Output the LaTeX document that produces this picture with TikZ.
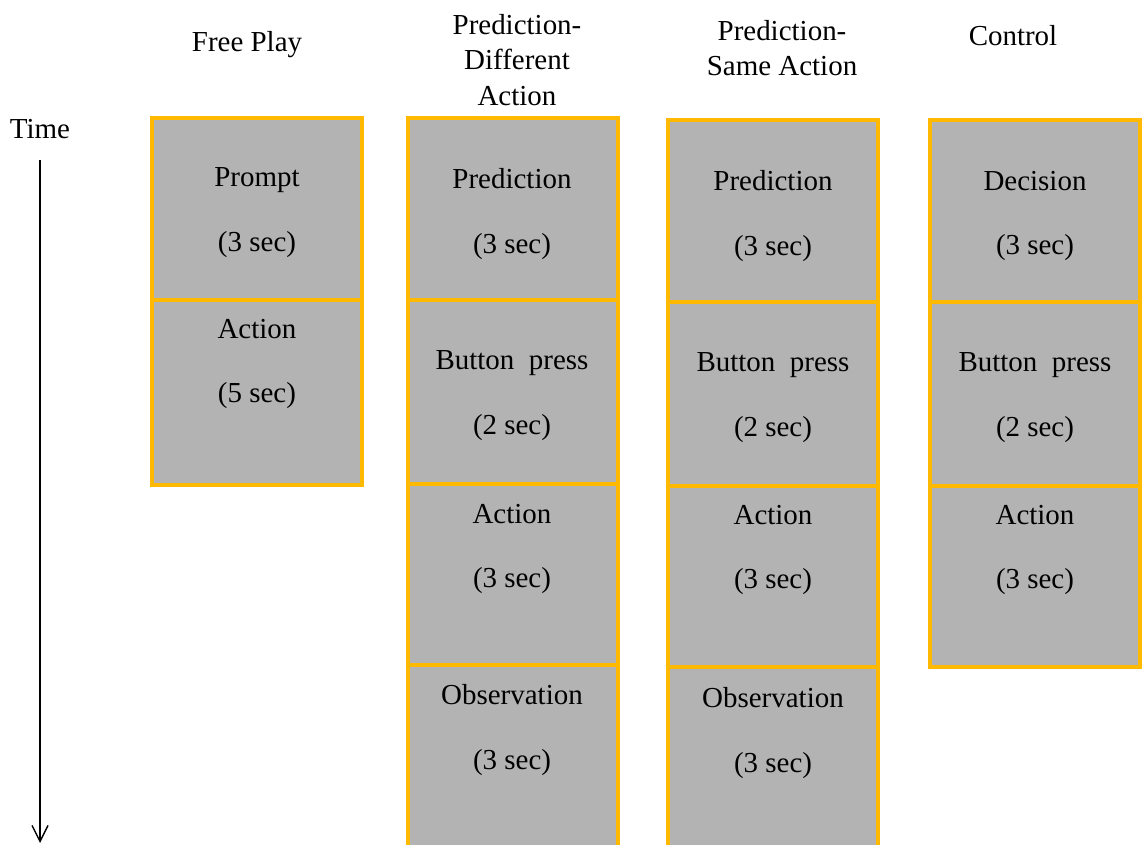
\documentclass[tikz,border=0pt]{standalone}
\usepackage{fontspec}
\setmainfont{Liberation Serif}
\usetikzlibrary{arrows.meta}
\definecolor{boxorange}{HTML}{FFB900}
\definecolor{boxgray}{HTML}{B3B3B3}

\begin{document}
\begin{tikzpicture}[x=0.025cm,y=-0.025cm,
   box/.style={rectangle,draw=boxorange,fill=boxgray,line width=3.5pt,
    minimum width=5.25cm,inner sep=0pt},
   txt/.style={align=center,font=\fontsize{20.6}{46.2}\selectfont},
   head/.style={align=center,font=\fontsize{20.6}{25.2}\selectfont}
    ]

    \clip (0,0) rectangle (1146,845);

    % Headers:
    \node[head] at (247,45) (hfp) {Free Play};
    \node[head] at (517,60) (hpd) {Prediction-\\Different\\Action};
    \node[head] at (782,48) (hps) {Prediction-\\Same Action};
    \node[head] at (1013,36) (hct) {Control};

    % Time axis:
    \node[head] at (40,129) (time) {Time};
    \coordinate (tstart) at (40,160);
    \coordinate (tend) at (40,843);
    \draw[line width=1pt,-{Straight Barb[width=4mm,length=4mm]}] (tstart) -- (tend);

    % Free Play:
    \node[box,minimum height=4.55cm] at (257,209) (fp1) {};
    \node[box,minimum height=4.625cm] at (257,392.5) (fp2) {};
    \node[txt] at (257,213) (fp1t) {Prompt\\(3 sec)};
    \node[txt] at (257,364) (fp2t) {Action\\(5 sec)};

    % Prediction-Different Action:
    \node[box,minimum height=4.55cm] at (513,209) (pd1) {};
    \node[box,minimum height=4.6cm] at (513,392) (pd2) {};
    \node[box,minimum height=4.525cm] at (513,574.5) (pd3) {};
    \node[box,minimum height=4.875cm] at (513,762.5) (pd4) {};
    \node[txt] at (512,214) (pd1t) {Prediction\\(3 sec)};
    \node[txt] at (512,396) (pd2t) {Button\ \ press\\(2 sec)};
    \node[txt] at (512,549) (pd3t) {Action\\(3 sec)};
    \node[txt] at (512,730) (pd4t) {Observation\\(3 sec)};

    % Prediction-Same Action:
    \node[box,minimum height=4.55cm] at (773,211) (ps1) {};
    \node[box,minimum height=4.6cm] at (773,394) (ps2) {};
    \node[box,minimum height=4.525cm] at (773,576.5) (ps3) {};
    \node[box,minimum height=4.825cm] at (773,763.5) (ps4) {};
    \node[txt] at (773,216) (ps1t) {Prediction\\(3 sec)};
    \node[txt] at (773,398) (ps2t) {Button\ \ press\\(2 sec)};
    \node[txt] at (773,550) (ps3t) {Action\\(3 sec)};
    \node[txt] at (773,733) (ps4t) {Observation\\(3 sec)};

    % Control:
    \node[box,minimum height=4.55cm] at (1035,211) (ct1) {};
    \node[box,minimum height=4.6cm] at (1035,394) (ct2) {};
    \node[box,minimum height=4.525cm] at (1035,576.5) (ct3) {};
    \node[txt] at (1035,216) (ct1t) {Decision\\(3 sec)};
    \node[txt] at (1035,398) (ct2t) {Button\ \ press\\(2 sec)};
    \node[txt] at (1035,550) (ct3t) {Action\\(3 sec)};

\end{tikzpicture}
\end{document}
